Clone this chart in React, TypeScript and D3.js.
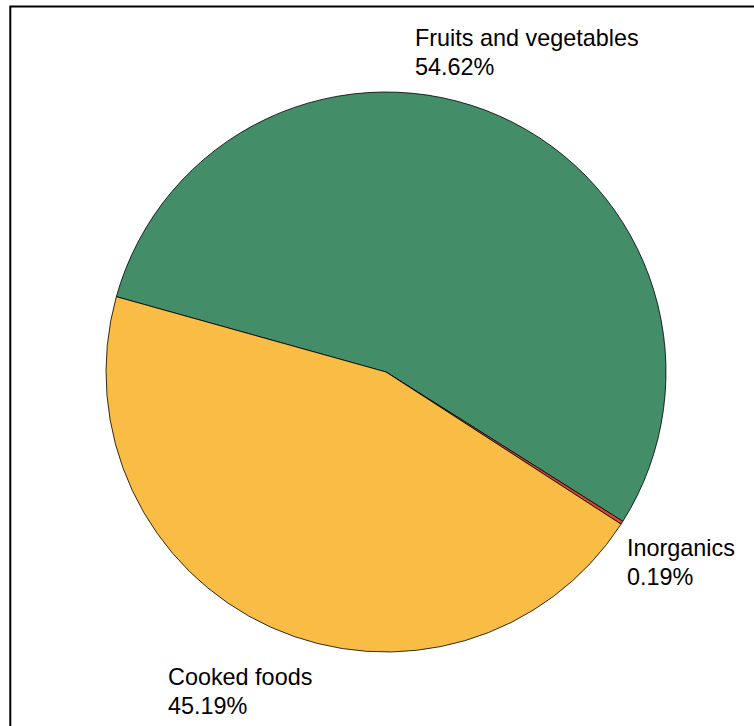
import React from "react";
import * as d3 from "d3";

const categories = ["Fruits and vegetables", "Inorganics", "Cooked foods"];
const values = [54.62, 0.19, 45.19];
const percentLabels = ["54.62%", "0.19%", "45.19%"];
const colors = ["#438E68", "#E0472A", "#F9BC45"];

const W = 754;
const H = 726;
const cx = 386;
const cy = 372;
const R = 280;
const startDeg = -74.4;

// label anchor positions (text left edge, first baseline)
const labelPos: [number, number][] = [
  [415, 46],
  [627, 556],
  [168, 685],
];

export default function App() {
  const pie = d3
    .pie<number>()
    .sort(null)
    .value((d) => d)
    .startAngle((startDeg * Math.PI) / 180)
    .endAngle((startDeg * Math.PI) / 180 + 2 * Math.PI);
  const arcs = pie(values);
  const arc = d3.arc<d3.PieArcDatum<number>>().innerRadius(0).outerRadius(R);

  return (
    <svg
      width={W}
      height={H}
      style={{ position: "absolute", left: 0, top: 0, background: "#fff" }}
      fontFamily="Liberation Sans, Arial, sans-serif"
    >
      <rect x={0} y={0} width={W} height={H} fill="#fff" />
      <rect x={10.3} y={6.5} width={900} height={900} fill="none" stroke="#000" strokeWidth={2} />
      <g transform={`translate(${cx},${cy})`}>
        {arcs.map((a, i) => (
          <path key={i} d={arc(a) || ""} fill={colors[i]} stroke="#000" strokeWidth={0.8} strokeLinejoin="round" />
        ))}
      </g>
      {categories.map((c, i) => (
        <text key={c} x={labelPos[i][0]} y={labelPos[i][1]} fontSize={23.4} fill="#000">
          <tspan x={labelPos[i][0]}>{c}</tspan>
          <tspan x={labelPos[i][0]} dy={29}>{percentLabels[i]}</tspan>
        </text>
      ))}
    </svg>
  );
}
